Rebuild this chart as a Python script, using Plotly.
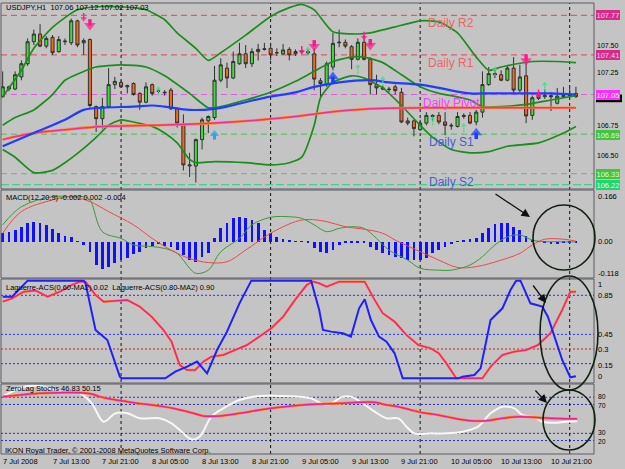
import plotly.graph_objects as go

# ---------------------------------------------------------------- data
bars = list(range(93))
open_ = [107.03,107.12,107.10,107.21,107.33,107.53,107.60,107.49,107.57,107.44,
         107.53,107.52,107.72,107.52,107.55,106.94,106.83,106.94,107.14,107.16,
         107.12,107.15,107.06,106.98,107.14,107.08,107.065,107.09,106.92,106.78,
         106.40,106.40,106.64,106.81,106.84,107.18,107.29,107.20,107.33,107.42,
         107.33,107.44,107.46,107.47,107.43,107.42,107.46,107.42,107.44,107.44,
         107.42,107.175,107.14,107.30,107.52,107.525,107.485,107.37,107.525,107.37,
         107.14,107.11,107.10,107.12,107.07,106.81,106.81,106.73,106.79,106.86,
         106.86,106.80,106.77,106.76,106.85,106.86,106.80,106.89,107.14,107.24,
         107.23,107.18,107.29,107.09,107.22,106.86,107.045,107.03,107.04,106.97,
         107.03,107.04,107.06]
high = [107.26,107.13,107.26,107.36,107.56,107.64,107.69,107.58,107.59,107.58,
        107.56,107.74,107.73,107.56,107.56,106.95,107.02,107.29,107.21,107.18,
        107.14,107.16,107.07,107.16,107.15,107.10,107.09,107.11,106.93,106.87,
        106.52,106.65,106.84,106.86,107.31,107.38,107.34,107.44,107.52,107.50,
        107.47,107.51,107.52,107.52,107.47,107.51,107.48,107.46,107.46,107.46,
        107.47,107.20,107.35,107.61,107.64,107.55,107.50,107.56,107.59,107.39,
        107.23,107.13,107.12,107.14,107.11,106.84,106.82,106.82,106.89,106.87,
        106.89,106.89,106.79,106.89,106.88,106.89,106.91,107.26,107.30,107.27,
        107.27,107.32,107.39,107.32,107.36,107.04,107.06,107.10,107.07,107.11,
        107.12,107.11,107.12]
low = [107.02,107.08,107.09,107.18,107.31,107.50,107.48,107.47,107.41,107.43,
       107.50,107.50,107.48,107.41,106.93,106.71,106.74,106.93,107.10,107.11,
       107.06,107.04,106.91,106.97,107.04,107.06,107.04,106.91,106.75,106.36,
       106.30,106.25,106.55,106.70,106.82,107.16,107.11,107.19,107.32,107.29,
       107.30,107.36,107.45,107.36,107.40,107.41,107.36,107.40,107.42,107.41,
       107.09,107.03,107.12,107.27,107.48,107.47,107.28,107.36,107.36,107.05,
       107.05,107.09,107.07,107.05,106.79,106.77,106.67,106.72,106.77,106.81,
       106.78,106.68,106.73,106.75,106.83,106.78,106.77,106.84,107.13,107.20,
       107.17,107.17,107.06,107.07,106.79,106.82,107.00,107.01,106.90,106.96,
       107.02,107.02,107.02]
close = [107.12,107.10,107.23,107.33,107.53,107.60,107.49,107.56,107.43,107.55,
         107.535,107.72,107.50,107.54,106.95,106.83,106.94,107.14,107.17,107.12,
         107.13,107.05,106.98,107.12,107.06,107.08,107.07,106.92,106.79,106.41,
         106.41,106.64,106.82,106.85,107.18,107.32,107.20,107.35,107.42,107.33,
         107.44,107.46,107.465,107.41,107.43,107.455,107.41,107.44,107.445,107.43,
         107.19,107.15,107.33,107.515,107.525,107.49,107.37,107.525,107.37,107.14,
         107.11,107.10,107.095,107.085,106.80,106.79,106.74,106.79,106.86,106.85,
         106.80,106.77,106.765,106.85,106.86,106.79,106.89,107.14,107.24,107.23,
         107.18,107.29,107.09,107.21,106.855,107.02,107.015,107.04,107.03,107.035,
         107.04,107.045,107.03]

bb_up_x = [0,3,5,8,12,16,21,23,26,28,31,33,35,39,43,46,48,50,53,57,59,64,67,70,73,76,78,80,85,89,92]
bb_up = [107.03,107.27,107.47,107.66,107.82,107.85,107.84,107.82,107.73,107.61,107.47,107.36,107.43,
         107.59,107.76,107.84,107.87,107.82,107.62,107.60,107.61,107.68,107.72,107.71,107.61,107.39,
         107.27,107.30,107.35,107.35,107.34]
bb_mid_x = [0,2,5,8,10,13,15,19,23,26,30,33,35,39,43,47,49,53,56,58,61,64,67,70,72,75,77,80,84,88,92]
bb_mid = [106.77,106.84,106.91,107.05,107.18,107.26,107.30,107.32,107.30,107.22,107.06,106.93,106.94,
          107.00,107.07,107.17,107.23,107.35,107.39,107.39,107.34,107.23,107.12,107.06,107.04,107.00,
          106.94,106.94,106.96,107.00,107.04]
bb_low_x = [0,2,5,8,10,13,15,17,19,21,24,26,28,30,31,34,39,43,46,48,50,51,53,56,58,61,64,67,69,72,75,78,81,86,90,92]
bb_low = [106.55,106.48,106.34,106.36,106.43,106.56,106.66,106.77,106.82,106.80,106.76,106.70,106.61,
          106.46,106.43,106.44,106.43,106.41,106.43,106.48,106.77,107.02,107.16,107.22,107.20,107.11,
          106.95,106.77,106.66,106.55,106.52,106.53,106.58,106.61,106.70,106.76]
ma_fast_x = [0,5,10,13,16,21,24,26,30,34,36,42,47,50,54,59,62,67,70,75,77,83,88,92]
ma_fast = [106.58,106.70,106.82,106.91,106.93,106.94,106.95,106.94,106.91,106.92,106.94,107.02,107.07,
           107.12,107.16,107.18,107.16,107.14,107.11,107.06,107.06,107.06,107.06,107.05]
ma_slow_x = [0,5,10,16,24,34,47,51,59,70,77,92]
ma_slow = [106.64,106.70,106.73,106.76,106.77,106.79,106.85,106.88,106.92,106.93,106.93,106.93]

level_vals = [107.77, 107.41, 107.05, 106.69, 106.33, 106.23]
level_names = ["Daily R2", "Daily R1", "Daily Pivot", "Daily S1", "Daily S2", ""]
level_text = ["107.77", "107.41", "107.05", "106.69", "106.33", "106.22"]
price_ticks = [107.50, 107.25, 106.75, 106.50]
bid_price = 107.03

# signal arrows: bar, price at the arrow centre
sig_pink_big_x = [14, 50, 59, 84]
sig_pink_big_y = [107.69, 107.50, 107.51, 107.37]
sig_pink_small_x = [13, 48, 58, 86]
sig_pink_small_y = [107.75, 107.45, 107.58, 107.055]
sig_blue_x = [53, 76]
sig_blue_y = [107.20, 106.69]
sig_cyan_x = [34]
sig_cyan_y = [106.68]
sig_green_x = [25, 49, 57, 61, 69, 74, 79, 87]
sig_green_y = [107.09, 107.45, 107.29, 107.18, 106.82, 106.755, 107.27, 107.13]

macd_hist = [0.031,0.037,0.043,0.055,0.068,0.074,0.068,0.062,0.046,0.033,
             0.022,0.016,0.002,-0.012,-0.037,-0.086,-0.102,-0.092,-0.080,-0.068,
             -0.062,-0.046,-0.037,-0.025,-0.016,-0.009,-0.016,-0.018,-0.031,-0.049,
             -0.068,-0.074,-0.055,-0.043,0.012,0.049,0.068,0.086,0.092,0.086,
             0.080,0.068,0.043,0.031,0.018,0.009,0.004,0.001,0.001,-0.002,
             -0.025,-0.037,-0.041,-0.031,-0.012,-0.006,-0.004,-0.004,-0.006,-0.018,
             -0.031,-0.043,-0.049,-0.055,-0.062,-0.068,-0.068,-0.068,-0.062,-0.043,
             -0.031,-0.018,-0.009,0.001,0.004,0.009,0.012,0.031,0.049,0.065,
             0.068,0.070,0.055,0.043,0.021,0.006,0.001,-0.004,-0.009,-0.009,
             -0.006,-0.004,-0.002]
macd_a_x = [0,3,8,11,13,14,16,19,21,24,26,28,30,31,33,35,38,40,43,46,48,50,52,54,56,58,60,62,65,67,70,72,75,77,79,81,83,85,87,89,92]
macd_a = [0.062,0.129,0.166,0.166,0.166,0.154,0.037,0.012,-0.012,-0.018,-0.025,-0.043,-0.098,-0.117,
          -0.105,-0.037,0.012,0.062,0.090,0.092,0.086,0.062,0.037,0.049,0.055,0.049,0.012,-0.031,
          -0.068,-0.098,-0.105,-0.105,-0.086,-0.055,-0.012,0.018,0.025,0.006,0.0,0.0,-0.001]
macd_b_x = [0,3,8,11,14,17,21,24,27,30,33,36,39,43,47,49,52,55,58,61,63,67,70,73,76,80,83,85,87,90,92]
macd_b = [0.031,0.111,0.154,0.166,0.148,0.111,0.062,0.012,-0.031,-0.062,-0.077,-0.074,-0.031,0.031,
          0.074,0.082,0.074,0.055,0.046,0.031,0.006,-0.037,-0.068,-0.095,-0.092,-0.068,-0.043,-0.012,
          0.009,0.009,0.002]
macd_ticks = [0.166, 0.0, -0.118]
macd_tick_text = ["0.166", "0.00", "-0.118"]

lag_fast_x = [0,1.5,4,13,13.3,14.9,16.8,18.8,19.1,26.1,27.7,29.6,31.2,32.8,34.4,36,38,39.9,49.5,50.8,51.4,
              52.7,54.6,55.9,57.2,58.1,59.1,60.4,61.6,62.9,64.2,73.1,73.8,75.7,76.7,78.3,80.2,81.5,82.4,
              83.1,84.7,86.6,87.5,89.8,91.1,92]
lag_fast = [0.836,0.836,1.0,1.0,0.973,0.495,0.392,0.017,0.0,0.0,0.068,0.119,0.171,0.051,0.290,0.478,0.768,
            1.0,1.0,0.70,0.495,0.478,0.461,0.427,0.717,0.809,0.597,0.427,0.375,0.256,0.0,0.0,0.017,0.034,
            0.102,0.597,0.717,0.904,1.0,1.0,0.768,0.734,0.631,0.188,0.01,0.02]
lag_slow_x = [0,1.5,3.4,5.3,7.2,9.2,11.1,12.4,13.3,14.9,16.2,18.1,20,22,23.9,25.8,27.1,28.4,29.6,30.9,32.2,
              33.5,35.4,37.3,39.2,41.2,43.1,45,46.9,48.8,49.8,50.8,52,54,58.1,59.7,61,62.9,64.8,66.7,68.7,
              70,71.2,72.8,77,78.3,80.2,82.1,84,85.9,87.9,89.8,91.1,92]
lag_slow = [0.785,0.819,0.887,0.898,0.836,0.887,0.956,0.99,0.99,0.853,0.785,0.795,0.802,0.734,0.631,0.495,
            0.375,0.137,0.085,0.085,0.171,0.222,0.239,0.290,0.341,0.427,0.512,0.631,0.802,0.956,0.99,0.973,
            0.939,0.99,0.99,0.802,0.666,0.580,0.444,0.341,0.307,0.256,0.154,0.0,0.0,0.119,0.239,0.273,
            0.290,0.341,0.461,0.70,0.887,0.887]
lag_levels_blue = [0.85, 0.45, 0.15]
lag_levels_red = [0.3]
lag_ticks = [1, 0.85, 0.45, 0.3, 0.15, 0]
lag_tick_text = ["1", "0.85", "0.45", "0.3", "0.15", "0"]

sto_x = [0,2.8,6,9.2,12.4,14.3,15.6,17.5,20,22.6,25.2,27.7,30.3,32.2,34.8,38,41.2,44.4,47.6,50.8,54,57.2,
         59.7,61.6,63.5,65.5,67.4,69.9,72.5,75.1,77.6,80.2,82.8,85.3,87.9,90.4,92.2]
sto_signal = [80.8,83.1,85.4,86.3,86.3,84.4,80.8,77.1,73.8,70.6,67.8,64.1,58.6,54.0,54.0,57.7,62.3,66.0,
              68.8,70.6,71.5,72.9,72.9,69.2,66.9,62.3,58.6,55.4,50.8,47.5,47.5,50.8,53.1,52.1,50.8,50.2,50.15]
sto_main_x = [0,1.5,3.4,6,9.2,12.4,14.3,16.2,18.1,20,22,25.2,27.1,29,30.3,31.6,33.5,35.4,38,41.2,44.4,47.6,
              49.5,52,54.6,55.9,57.8,59.7,61.6,63.5,64.8,66.1,68.7,71.2,73.8,76.3,78.3,80.2,82.1,83.4,85.3,
              86.6,88.5,90.4,92.2]
sto_main = [80.8,87.7,94.6,95.5,87.7,85.4,71.5,46.1,57.7,57.7,50.8,50.8,43.8,30.0,21.7,25.4,53.1,64.6,76.1,
            81.7,81.7,80.8,78.4,69.2,80.8,80.8,71.5,60.0,50.8,50.8,39.2,30.0,30.0,30.0,32.3,39.2,57.7,66.9,
            64.6,55.4,52.1,46.1,44.8,46.1,46.83]
sto_levels = [80, 70, 30, 20]
sto_ticks = [100, 80, 70, 30, 20, 0]

day_starts = [19, 43, 67, 91]
xlab_bars = [0, 8, 16, 24, 32, 40, 48, 56, 64, 72, 80, 88]
xlab_text = ["7 Jul 2008", "7 Jul 13:00", "7 Jul 21:00", "8 Jul 05:00", "8 Jul 13:00", "8 Jul 21:00",
             "9 Jul 05:00", "9 Jul 13:00", "9 Jul 21:00", "10 Jul 05:00", "10 Jul 13:00", "10 Jul 21:00"]

title_main = "USDJPY,H1  107.06 107.12 107.02 107.03"
title_macd = "MACD(12,20,9) -0.002 0.002 -0.004"
title_lag = "Laguerre-ACS(0.60-MA2) 0.02  Laguerre-ACS(0.80-MA2) 0.90"
title_sto = "ZeroLag Stochs 46.83 50.15"
copyright_txt = "IKON Royal Trader, © 2001-2008 MetaQuotes Software Corp."

# ---------------------------------------------------------------- layout helpers
W, H = 625, 469
BG = "#c4c4c4"
FONT = "Liberation Sans"
XL, XR = 1, 594
P_MAIN, P_MACD, P_LAG, P_STO = (3, 189), (190, 278), (279, 383), (384, 454)


def fx(p):
    return p / W


def fy(p):
    return 1 - p / H


def dom(p):
    return [fy(p[1]), fy(p[0])]


fig = go.Figure()

# candles
fig.add_trace(go.Candlestick(
    x=bars, open=open_, high=high, low=low, close=close,
    increasing=dict(fillcolor="#3edc3e", line=dict(color="#303030", width=1)),
    decreasing=dict(fillcolor="#ee6a1e", line=dict(color="#303030", width=1)),
    whiskerwidth=0, xaxis="x", yaxis="y", showlegend=False, hoverinfo="skip"))

# bollinger + moving averages
for xs, ys in [(bb_up_x, bb_up), (bb_mid_x, bb_mid), (bb_low_x, bb_low)]:
    fig.add_trace(go.Scatter(x=xs, y=ys, mode="lines", line=dict(color="#1c8c1c", width=1.7, shape="spline", smoothing=0.6),
                             xaxis="x", yaxis="y"))
fig.add_trace(go.Scatter(x=ma_slow_x, y=ma_slow, mode="lines", line=dict(color="#ff8a30", width=2.6, shape="spline"),
                         xaxis="x", yaxis="y"))
fig.add_trace(go.Scatter(x=ma_slow_x, y=ma_slow, mode="lines", line=dict(color="#ff2a8c", width=1.5, shape="spline"),
                         xaxis="x", yaxis="y"))
fig.add_trace(go.Scatter(x=ma_fast_x, y=ma_fast, mode="lines", line=dict(color="#1f3cff", width=2.2, shape="spline"),
                         xaxis="x", yaxis="y"))


# signal arrows: a short stem and a triangular head
def arrow_trace(xs, ys, up, half, head, width, col, dash="solid"):
    px_, py_, sizes, syms = [], [], [], []
    for b, v in zip(xs, ys):
        if up:
            px_ += [b, b, None]; py_ += [v - half, v + half * 0.3, None]
            syms += ["triangle-up", "triangle-up", "triangle-up"]
        else:
            px_ += [b, b, None]; py_ += [v + half, v - half * 0.3, None]
            syms += ["triangle-down", "triangle-down", "triangle-down"]
        sizes += [0, head, 0]
    return go.Scatter(x=px_, y=py_, mode="lines+markers",
                      line=dict(color=col, width=width, dash=dash),
                      marker=dict(symbol=syms, size=sizes, color=col, line=dict(width=0)),
                      xaxis="x", yaxis="y", cliponaxis=False, connectgaps=False)


fig.add_trace(arrow_trace(sig_pink_big_x, sig_pink_big_y, False, 0.045, 10, 3.5, "#ff1a8c"))
fig.add_trace(arrow_trace(sig_pink_small_x, sig_pink_small_y, False, 0.04, 6, 1.5, "#ff1a8c"))
fig.add_trace(arrow_trace(sig_blue_x, sig_blue_y, True, 0.045, 10, 3.5, "#1a3cff"))
fig.add_trace(arrow_trace(sig_cyan_x, sig_cyan_y, True, 0.04, 8, 3, "#2aa0f0"))
fig.add_trace(arrow_trace(sig_green_x, sig_green_y, True, 0.05, 5, 1.3, "#3ae07a", dash="2px,1px"))

# MACD
fig.add_trace(go.Bar(x=bars, y=macd_hist, marker=dict(color="#1010ff", line=dict(width=0)), width=0.45,
                     xaxis="x", yaxis="y2"))
fig.add_trace(go.Scatter(x=macd_a_x, y=macd_a, mode="lines", line=dict(color="#3a9a3a", width=1, shape="spline"),
                         xaxis="x", yaxis="y2"))
fig.add_trace(go.Scatter(x=macd_b_x, y=macd_b, mode="lines", line=dict(color="#f04848", width=1, shape="spline"),
                         xaxis="x", yaxis="y2"))

# Laguerre
fig.add_trace(go.Scatter(x=lag_slow_x, y=lag_slow, mode="lines", line=dict(color="#ff8a30", width=2.4),
                         xaxis="x", yaxis="y3"))
fig.add_trace(go.Scatter(x=lag_slow_x, y=lag_slow, mode="lines", line=dict(color="#f8207e", width=1.5),
                         xaxis="x", yaxis="y3"))
fig.add_trace(go.Scatter(x=lag_fast_x, y=lag_fast, mode="lines", line=dict(color="#1f1fff", width=2),
                         xaxis="x", yaxis="y3"))

# Stochastic
fig.add_trace(go.Scatter(x=sto_main_x, y=sto_main, mode="lines", line=dict(color="#f8f8f8", width=2, shape="spline"),
                         xaxis="x", yaxis="y4"))
fig.add_trace(go.Scatter(x=sto_x, y=sto_signal, mode="lines", line=dict(color="#ff8a30", width=2.6, shape="spline"),
                         xaxis="x", yaxis="y4"))
fig.add_trace(go.Scatter(x=sto_x, y=sto_signal, mode="lines", line=dict(color="#ff1a8c", width=1.5, shape="spline"),
                         xaxis="x", yaxis="y4"))

# ---------------------------------------------------------------- shapes
shapes = []
lvl_line_col = ["#e8405a", "#e8405a", "#e060e0", "#48c048", "#78b078", "#22d482"]
lvl_dash = ["6px,4px", "6px,4px", "6px,4px", "6px,4px", "6px,4px", "8px,3px"]
for v, c, d in zip(level_vals, lvl_line_col, lvl_dash):
    shapes.append(dict(type="line", xref="paper", yref="y", x0=fx(XL), x1=fx(XR), y0=v, y1=v,
                       line=dict(color=c, width=1, dash=d), layer="below"))
for v in lag_levels_blue:
    shapes.append(dict(type="line", xref="paper", yref="y3", x0=fx(XL), x1=fx(XR), y0=v, y1=v,
                       line=dict(color="#2030ff", width=1, dash="2px,2px"), layer="below"))
for v in lag_levels_red:
    shapes.append(dict(type="line", xref="paper", yref="y3", x0=fx(XL), x1=fx(XR), y0=v, y1=v,
                       line=dict(color="#c02828", width=1, dash="2px,2px"), layer="below"))
for v in sto_levels:
    shapes.append(dict(type="line", xref="paper", yref="y4", x0=fx(XL), x1=fx(XR), y0=v, y1=v,
                       line=dict(color="#2030c0", width=1, dash="2px,2px"), layer="below"))
for b in day_starts:
    shapes.append(dict(type="line", xref="x", yref="paper", x0=b, x1=b, y0=fy(P_STO[1]), y1=fy(P_MAIN[0]),
                       line=dict(color="#101010", width=1, dash="3px,3px"), layer="below"))
for p in [P_MAIN, P_MACD, P_LAG, P_STO]:
    shapes.append(dict(type="rect", xref="paper", yref="paper", x0=fx(XL), x1=fx(XR), y0=fy(p[1]), y1=fy(p[0]),
                       line=dict(color="#5c5c64", width=1), fillcolor="rgba(0,0,0,0)", layer="above"))
# bid price marker (black box mostly hidden behind the pivot price box)
shapes.append(dict(type="rect", xref="paper", yref="y", x0=fx(596), x1=fx(622),
                   y0=bid_price - 0.05, y1=bid_price + 0.02, fillcolor="#000000", line=dict(width=0), layer="above"))
# hand-drawn marks (ellipses)
for (x0, y0, x1, y1) in [(533, 205, 595, 270), (540, 276, 598, 390), (543, 390, 595, 450)]:
    shapes.append(dict(type="circle", xref="paper", yref="paper", x0=fx(x0), x1=fx(x1), y0=fy(y1), y1=fy(y0),
                       line=dict(color="#102010", width=1.6), layer="above"))

# ---------------------------------------------------------------- annotations
ann = []
sm = dict(family=FONT, size=7.5, color="#000000")
sm2 = dict(family=FONT, size=6.8, color="#000000")
sm3 = dict(family=FONT, size=7, color="#000000")


def txt(x, y, t, xref="paper", yref="paper", font=sm, **kw):
    d = dict(x=x, y=y, xref=xref, yref=yref, text=t, showarrow=False, font=font,
             xanchor=kw.pop("xanchor", "left"), yanchor=kw.pop("yanchor", "middle"))
    d.update(kw)
    ann.append(d)


txt(fx(4), fy(8), title_main)
txt(fx(4), fy(197), title_macd)
txt(fx(4), fy(287), title_lag)
txt(fx(4), fy(388), title_sto)
txt(fx(3), fy(450), copyright_txt)

# price scale
tick_shift = [0, 0, 2, 0]
for v, s in zip(price_ticks, tick_shift):
    txt(fx(596), v, f"{v:.2f}", yref="y", font=sm3, yshift=s, borderwidth=0)
lvl_bg = ["#d62a8c", "#d62a8c", "#ff2cff", "#44c244", "#44c244", "#22d470"]
lvl_fg = ["#ffd0ea", "#ffd0ea", "#ffffff", "#d8ffd8", "#d8ffd8", "#e8fff0"]
lvl_shift = [0, 0, 0, -1, 0, 0]
for v, t, bgc, fgc, s in zip(level_vals, level_text, lvl_bg, lvl_fg, lvl_shift):
    txt(fx(596), v, t, yref="y", bgcolor=bgc, font=dict(family=FONT, size=7.5, color=fgc),
        borderpad=0.5, borderwidth=0, yshift=s)

# pivot names
name_col = ["#f06464", "#f06464", "#ff3cff", "#4a5ed0", "#4a5ed0", "#000000"]
for v, n, c in zip(level_vals, level_names, name_col):
    if n:
        txt(72, v, n, xref="x", yref="y", font=dict(family=FONT, size=12, color=c), xanchor="center", yshift=-8)

# sub-window scales
for v, t in zip(macd_ticks, macd_tick_text):
    txt(fx(596), v, t, yref="y2")
lag_shift = [-4, 0, 0, 0, -2, 2]
for v, t, s in zip(lag_ticks, lag_tick_text, lag_shift):
    txt(fx(596), v, t, yref="y3", yshift=s)
sto_shift = [-5, 1, -1, 1, -1, 5]
for v, s in zip(sto_ticks, sto_shift):
    txt(fx(596), v, str(v), yref="y4", yshift=s, font=sm2)

# time axis
for b, t in zip(xlab_bars, xlab_text):
    txt(b, fy(461), t, xref="x", xshift=-2)

# hand-drawn arrows
for (tx, ty, hx, hy) in [(494, 193, 530, 217), (532, 284, 546, 303), (534, 389, 547, 403)]:
    ann.append(dict(x=fx(hx), y=fy(hy), xref="paper", yref="paper", ax=tx - hx, ay=ty - hy,
                    showarrow=True, arrowhead=2, arrowsize=1.3, arrowwidth=1.3, arrowcolor="#101010", text=""))

ax_common = dict(visible=False, showgrid=False, zeroline=False, fixedrange=True)
fig.update_layout(
    width=W, height=H, margin=dict(l=0, r=0, t=0, b=0), autosize=False,
    paper_bgcolor=BG, plot_bgcolor=BG, showlegend=False, bargap=0,
    xaxis=dict(domain=[fx(XL), fx(XR)], range=[-0.27, 94.9], rangeslider=dict(visible=False), **ax_common),
    yaxis=dict(domain=dom(P_MAIN), range=[106.191, 107.882], anchor="x", **ax_common),
    yaxis2=dict(domain=dom(P_MACD), range=[-0.134, 0.1907], anchor="x", **ax_common),
    yaxis3=dict(domain=dom(P_LAG), range=[-0.048, 1.017], anchor="x", **ax_common),
    yaxis4=dict(domain=dom(P_STO), range=[1.4, 98.3], anchor="x", **ax_common),
    shapes=shapes, annotations=ann,
)

fig.write_html("out.html")
